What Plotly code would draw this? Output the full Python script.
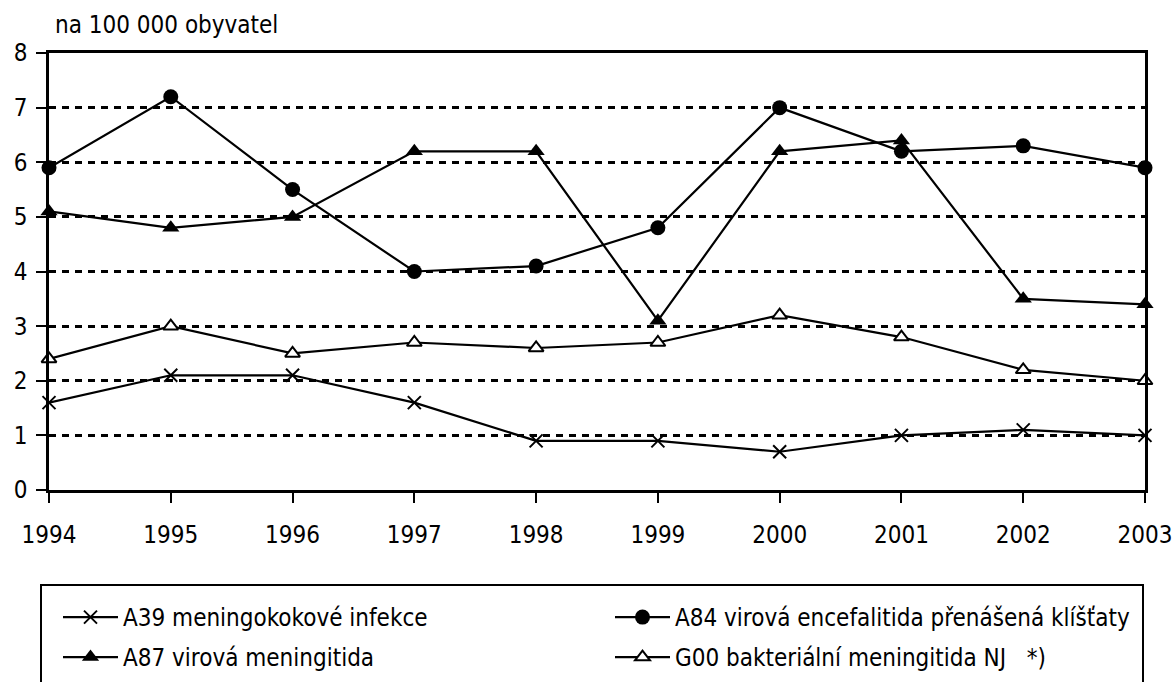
import plotly.graph_objects as go

years = [1994, 1995, 1996, 1997, 1998, 1999, 2000, 2001, 2002, 2003]
a39 = [1.6, 2.1, 2.1, 1.6, 0.9, 0.9, 0.7, 1.0, 1.1, 1.0]
a84 = [5.9, 7.2, 5.5, 4.0, 4.1, 4.8, 7.0, 6.2, 6.3, 5.9]
a87 = [5.1, 4.8, 5.0, 6.2, 6.2, 3.1, 6.2, 6.4, 3.5, 3.4]
g00 = [2.4, 3.0, 2.5, 2.7, 2.6, 2.7, 3.2, 2.8, 2.2, 2.0]

names = [
    "A39 meningokokové infekce",
    "A84 virová encefalitida přenášená klíšťaty",
    "A87 virová meningitida",
    "G00 bakteriální meningitida NJ   *)",
]
y_title = "na 100 000 obyvatel"

FONT = "DejaVu Sans Condensed, Liberation Sans Narrow, Arial Narrow, sans-serif"
FS = 24
W, H = 1173, 682
L, R, T, B = 49, 28, 53, 192
pw, ph = W - L - R, H - T - B


def px_x(p):
    return (p - L) / pw


def px_y(p):
    return (H - B - p) / ph


fig = go.Figure()
styles = [
    dict(symbol="x-thin", color="black", size=13, line=dict(width=2, color="black")),
    dict(symbol="circle", color="black", size=15, line=dict(width=0, color="black")),
    dict(symbol="triangle-up", color="black", size=15, line=dict(width=0, color="black")),
    dict(symbol="triangle-up", color="white", size=13, line=dict(width=2, color="black")),
]
legend_ids = ["legend", "legend2", "legend3", "legend4"]
for name, vals, st, lg in zip(names, [a39, a84, a87, g00], styles, legend_ids):
    fig.add_trace(go.Scatter(
        x=years, y=vals, name=name, mode="lines+markers",
        line=dict(color="black", width=2.2),
        marker=st, cliponaxis=False, legend=lg,
    ))

leg_common = dict(
    orientation="h", xanchor="left", yanchor="top",
    bgcolor="rgba(0,0,0,0)", borderwidth=0, itemwidth=55,
    font=dict(family=FONT, size=FS, color="black"),
)
col_x = [58, 610]
row_y = [595, 635]

fig.update_layout(
    width=W, height=H,
    margin=dict(l=L, r=R, t=T, b=B, autoexpand=False),
    paper_bgcolor="white", plot_bgcolor="white",
    font=dict(family=FONT, size=FS, color="black"),
    showlegend=True,
    legend=dict(x=px_x(col_x[0]), y=px_y(row_y[0]), **leg_common),
    legend2=dict(x=px_x(col_x[1]), y=px_y(row_y[0]), **leg_common),
    legend3=dict(x=px_x(col_x[0]), y=px_y(row_y[1]), **leg_common),
    legend4=dict(x=px_x(col_x[1]), y=px_y(row_y[1]), **leg_common),
    shapes=[dict(
        type="rect", xref="paper", yref="paper",
        x0=px_x(41), x1=px_x(1143), y0=px_y(585), y1=px_y(720),
        line=dict(color="black", width=2), fillcolor="white", layer="below",
    )],
    annotations=[dict(
        text=y_title, xref="paper", yref="paper",
        x=px_x(53), y=px_y(25), xanchor="left", yanchor="middle",
        showarrow=False, font=dict(family=FONT, size=FS, color="black"),
    )],
)

fig.update_xaxes(
    range=[1994, 2003], tickmode="array", tickvals=years,
    ticktext=[str(y) for y in years],
    showgrid=False, zeroline=False,
    showline=True, linecolor="black", linewidth=2.5, mirror=True,
    ticks="outside", ticklen=10, tickwidth=2, tickcolor="black",
    ticklabelstandoff=11, ticklabeloverflow="allow",
    tickfont=dict(family=FONT, size=FS, color="black"),
)
fig.update_yaxes(
    range=[0, 8], dtick=1, tick0=0,
    showgrid=True, gridcolor="black", gridwidth=2.5, griddash="7px,6px",
    zeroline=False,
    showline=True, linecolor="black", linewidth=2.5, mirror=True,
    ticks="outside", ticklen=10, tickwidth=2, tickcolor="black",
    ticklabelstandoff=4,
    tickfont=dict(family=FONT, size=FS, color="black"),
)

fig.write_html(
    "out.html",
    config={"displayModeBar": False},
    post_script="document.body.style.margin='0';document.body.style.overflow='hidden';",
)
